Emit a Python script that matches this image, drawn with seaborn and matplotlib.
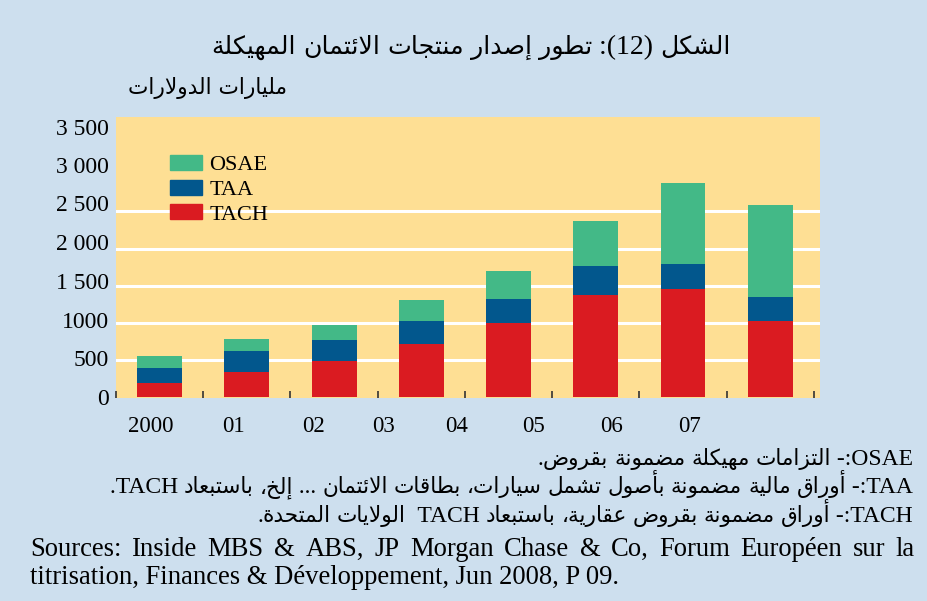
import re
import numpy as np
import pandas as pd
import matplotlib
matplotlib.use('Agg')
import matplotlib.pyplot as plt
from matplotlib.patches import Patch
import seaborn as sns

# Données (milliards de dollars)
years = ['2000', '01', '02', '03', '04', '05', '06', '07']
tach = [185, 335, 480, 710, 995, 1375, 1455, 1020]
taa = [200, 285, 285, 310, 325, 390, 340, 325]
osae = [165, 160, 200, 285, 380, 610, 1095, 1245]
ytick_labels = ['0', '500', '1000', '1 500', '2 000', '2 500', '3 000', '3 500']
grid_values = [500, 1000, 1500, 2000, 2500]

title = 'الشكل (12): تطور إصدار منتجات الائتمان المهيكلة'
unit = 'مليارات الدولارات'
notes = ['OSAE:- التزامات مهيكلة مضمونة بقروض.',
         'TAA:- أوراق مالية مضمونة بأصول تشمل سيارات، بطاقات الائتمان ... إلخ، باستبعاد TACH.',
         'TACH:- أوراق مضمونة بقروض عقارية، باستبعاد TACH  الولايات المتحدة.']
sources = ['Sources: Inside MBS & ABS, JP Morgan Chase & Co, Forum Européen sur la',
           'titrisation, Finances & Développement, Jun 2008, P 09.']

BG = '#cddfee'
YELLOW = '#fedf94'
GREEN = '#43b987'
BLUE = '#02578d'
RED = '#da1b21'

# formes contextuelles arabes (matplotlib ne fait pas le shaping)
_letters = 'ءآأؤإئابةتثجحخدذرزسشصضطظعغفقكلمنهوىي'
_nforms = [1, 2, 2, 2, 2, 4, 2, 4, 2, 4, 4, 4, 4, 4, 2, 2, 2, 2,
           4, 4, 4, 4, 4, 4, 4, 4, 4, 4, 4, 4, 4, 4, 4, 2, 2, 4]
FORMS = {}
code = 0xFE80
for ch, n in zip(_letters, _nforms):
    FORMS[ch] = [chr(code + k) for k in range(n)]
    code += n
LAM_ALEF = {'آ': 0xFEF5, 'أ': 0xFEF7, 'إ': 0xFEF9, 'ا': 0xFEFB}


def shape(s):
    out = []
    i = 0
    while i < len(s):
        c = s[i]
        if c not in FORMS:
            out.append(c)
            i += 1
            continue
        prev = s[i - 1] if i > 0 else ''
        nxt = s[i + 1] if i + 1 < len(s) else ''
        jp = prev in FORMS and len(FORMS[prev]) == 4
        if c == 'ل' and nxt in LAM_ALEF:
            out.append(chr(LAM_ALEF[nxt] + int(jp)))
            i += 2
            continue
        n = len(FORMS[c])
        jn = n == 4 and nxt in FORMS and len(FORMS[nxt]) > 1
        if n == 4:
            idx = {(0, 0): 0, (1, 0): 1, (0, 1): 2, (1, 1): 3}[(int(jp), int(jn))]
        elif n == 2:
            idx = int(jp)
        else:
            idx = 0
        out.append(FORMS[c][idx])
        i += 1
    return ''.join(out)


def rtl(s):
    tokens = re.findall(r'[A-Za-z0-9]+|.', shape(s))
    mirror = {'(': ')', ')': '('}
    return ''.join(mirror.get(t, t) for t in reversed(tokens))


plt.rcParams['font.family'] = ['Liberation Serif', 'DejaVu Sans']

df = pd.DataFrame({'year': years, 'TACH': tach, 'TAA': taa, 'OSAE': osae})
df['top_taa'] = df['TACH'] + df['TAA']
df['top_osae'] = df['top_taa'] + df['OSAE']

fig = plt.figure(figsize=(9.28, 6.01), dpi=100, facecolor=BG)
ax = fig.add_axes([0.125, 0.3378, 0.7586, 0.4676])
ax.set_facecolor(YELLOW)

for v in grid_values:
    ax.axhline(v, color='white', lw=2.2, zorder=1)

for col, c in [('top_osae', GREEN), ('top_taa', BLUE), ('TACH', RED)]:
    sns.barplot(data=df, x='year', y=col, color=c, saturation=1, width=0.515,
                linewidth=0, ax=ax, zorder=3)

ax.set_xlim(-0.49, 7.57)
ax.set_ylim(-18, 3776)
for s in ax.spines.values():
    s.set_visible(False)
ax.set_xlabel('')
ax.set_ylabel('')

# étiquettes comme dans l'original (légèrement décalées)
ax.set_yticks([0, 523, 1036, 1564, 2091, 2618, 3131, 3645], ytick_labels)
ax.tick_params(axis='y', length=0, labelsize=17, pad=5)
ax.set_xticks([-0.10, 0.85, 1.76, 2.57, 3.40, 4.29, 5.18, 6.07], years)
ax.tick_params(axis='x', which='major', length=0, labelsize=16.5, pad=13)
ax.set_xticks(np.arange(-0.5, 8, 1), minor=True)
ax.tick_params(axis='x', which='minor', direction='in', length=5, width=1.2,
               color='#333333')

handles = [Patch(color=GREEN, label='OSAE'), Patch(color=BLUE, label='TAA'),
           Patch(color=RED, label='TACH')]
ax.legend(handles=handles, loc='upper left', bbox_to_anchor=(0.077, 0.865),
          frameon=False, fontsize=16, handlelength=1.45, handleheight=0.68,
          handletextpad=0.3, labelspacing=0.19, borderpad=0, borderaxespad=0)

r = fig.canvas.get_renderer()
W, H = fig.bbox.width, fig.bbox.height


def text_width(s, size, family):
    # bornes '|' pour compter les espaces en bord
    t1 = fig.text(0, 0, '|' + s + '|', fontsize=size, family=family)
    t2 = fig.text(0, 0, '||', fontsize=size, family=family)
    w = t1.get_window_extent(r).width - t2.get_window_extent(r).width
    t1.remove()
    t2.remove()
    return w


def draw_mixed(x, y, s, lat, ara, align='right'):
    # texte arabe (RTL) avec passages latins, posé sur une ligne de base
    parts = re.findall(r'[ -~]+|[^ -~]+', rtl(s))
    specs = []
    for p in parts:
        if p[0].isascii():
            specs.append((p, lat, 'Liberation Serif'))
        else:
            specs.append((p, ara, 'DejaVu Sans'))
    widths = [text_width(p, sz, fam) for p, sz, fam in specs]
    total = sum(widths)
    x0 = x - total if align == 'right' else x - total / 2
    for (p, sz, fam), w in zip(specs, widths):
        fig.text(x0 / W, 1 - y / H, p, fontsize=sz, family=fam,
                 ha='left', va='baseline')
        x0 += w


draw_mixed(471, 54, title, 20, 18.2, align='center')
fig.text(0.309, 0.854, rtl(unit), ha='right', va='center', fontsize=15.6,
         family='DejaVu Sans')
for y, line in zip([465, 493, 522], notes):
    draw_mixed(913, y, line, 17, 15.6)

# ligne justifiée
words = [fig.text(0.032, 0.0865, w, ha='left', va='center', fontsize=19.2)
         for w in sources[0].split()]
widths = [t.get_window_extent(r).width for t in words]
gap = (915 - 30 - sum(widths)) / (len(words) - 1)
x = 30
for t, w in zip(words, widths):
    t.set_x(x / W)
    x += w + gap
fig.text(0.032, 0.0383, sources[1], ha='left', va='center', fontsize=19.2)

fig.savefig('out.png', dpi=100, facecolor=BG)
